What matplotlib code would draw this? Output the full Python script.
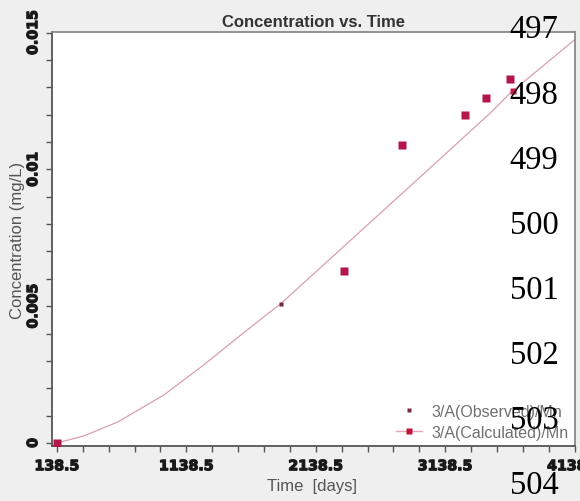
import matplotlib
matplotlib.use("Agg")
import matplotlib.pyplot as plt
import matplotlib.patheffects as pe
from matplotlib.ticker import MultipleLocator, FixedLocator, FixedFormatter
from matplotlib.lines import Line2D

# Observed concentrations (mg/L) versus time (days)
obs_time = [138.5, 2359, 2806, 3292, 3454, 3639]
obs_conc = [0.0, 0.0063, 0.0109, 0.0120, 0.0126, 0.0133]

# Calculated concentration curve
calc_time = [138.5, 347, 609, 963, 1272, 1534, 1788, 1866, 2359, 3022, 3485, 3639, 4142]
calc_conc = [0.0, 0.00026, 0.00077, 0.00175, 0.00285, 0.00385, 0.00480,
             0.00508, 0.00720, 0.01005, 0.01205, 0.01278, 0.01475]

# Calculated points shown as markers on the curve
calc_mark_time = [1866, 3662]
calc_mark_conc = [0.00508, 0.01285]

x_ticks = [138.5, 1138.5, 2138.5, 3138.5, 4138.5]
x_tick_labels = ["138.5", "1138.5", "2138.5", "3138.5", "4138.5"]
y_ticks = [0.0, 0.005, 0.01, 0.015]
y_tick_labels = ["0", "0.005", "0.01", "0.015"]

series_labels = ["3/A(Observed)/Mn", "3/A(Calculated)/Mn"]
line_numbers = ["497", "498", "499", "500", "501", "502", "503", "504"]

W, H = 580, 502
fig = plt.figure(figsize=(W / 100, H / 100), dpi=100)
fig.patch.set_facecolor("#efefef")

ax = fig.add_axes([52 / W, 1 - 447 / H, (575 - 52) / W, (447 - 33) / H])
ax.set_facecolor("white")

ax.plot(calc_time, calc_conc, color="#d9a0ab", lw=0.9, zorder=2)
ax.plot(calc_mark_time[:1], calc_mark_conc[:1], ls="none", marker="s",
        ms=3.0, color="#6e2a44", mec="none", zorder=3)
ax.plot(calc_mark_time[1:], calc_mark_conc[1:], ls="none", marker="s",
        ms=3.8, color="#c8174a", mec="none", zorder=3)
ax.plot(obs_time, obs_conc, ls="none", marker="s", ms=6.0,
        color="#b3164a", mec="none", zorder=4)

ax.set_xlim(100, 4142)
ax.set_ylim(-0.00011, 0.01502)

ax.xaxis.set_major_locator(FixedLocator(x_ticks))
ax.xaxis.set_major_formatter(FixedFormatter(x_tick_labels))
ax.xaxis.set_minor_locator(FixedLocator([138.5 + 200 * i for i in range(21)]))
ax.yaxis.set_major_locator(FixedLocator(y_ticks))
ax.yaxis.set_major_formatter(FixedFormatter(y_tick_labels))
ax.yaxis.set_minor_locator(MultipleLocator(0.001))

for axis in (ax.xaxis, ax.yaxis):
    axis.set_tick_params(which="both", direction="out", length=4.5,
                         width=1.0, color="#555555")
ax.tick_params(axis="x", which="major", pad=5)
ax.tick_params(axis="y", which="major", pad=4)

heavy = [pe.withStroke(linewidth=0.9, foreground="#1a1a1a")]
for lbl in ax.get_xticklabels() + ax.get_yticklabels():
    lbl.set_fontfamily("DejaVu Sans")
    lbl.set_fontweight("bold")
    lbl.set_fontsize(10.2)
    lbl.set_color("#1a1a1a")
    lbl.set_path_effects(heavy)
for lbl in ax.get_yticklabels():
    lbl.set_rotation(90)
    lbl.set_va("center")

for side in ("left", "bottom"):
    ax.spines[side].set_color("#555555")
    ax.spines[side].set_linewidth(1.3)
for side in ("top", "right"):
    ax.spines[side].set_color("#8a8a8a")
    ax.spines[side].set_linewidth(1.3)

ax.set_title("Concentration vs. Time", fontfamily="Liberation Sans",
             fontweight="bold", fontsize=12, color="#333333", pad=4)

ax.set_ylabel("Concentration (mg/L)", fontfamily="Liberation Sans",
              fontsize=12, color="#555555")
ax.yaxis.set_label_coords((25 - 52) / (575 - 52), (447 - 240) / (447 - 33))
ax.set_xlabel("Time  [days]", fontfamily="Liberation Sans",
              fontsize=12, color="#555555")
ax.xaxis.set_label_coords((312 - 52) / (575 - 52), -(479 - 447) / (447 - 33))

handles = [
    Line2D([], [], ls="none", marker="s", ms=3.5, color="#7a2748", mec="none"),
    Line2D([], [], ls="-", lw=1.0, color="#eaa6b6", marker="s", ms=4.5,
           mfc="#c0143c", mec="none"),
]
leg = ax.legend(handles, series_labels, loc="lower right", frameon=False,
                prop={"family": "Liberation Sans", "size": 11.5},
                handlelength=1.6, handletextpad=0.6, labelspacing=0.35,
                borderaxespad=0.1, borderpad=0.3)
for t in leg.get_texts():
    t.set_color("#707070")

# Manuscript line numbers along the right margin
for i, num in enumerate(line_numbers):
    cy = 27 + 65.1 * i
    fig.text(534 / W, 1 - (cy + 11.5) / H, num, ha="center", va="baseline",
             fontfamily="Liberation Serif", fontsize=23.5, color="black",
             zorder=10)

fig.savefig("out.png", dpi=100, facecolor=fig.get_facecolor())
